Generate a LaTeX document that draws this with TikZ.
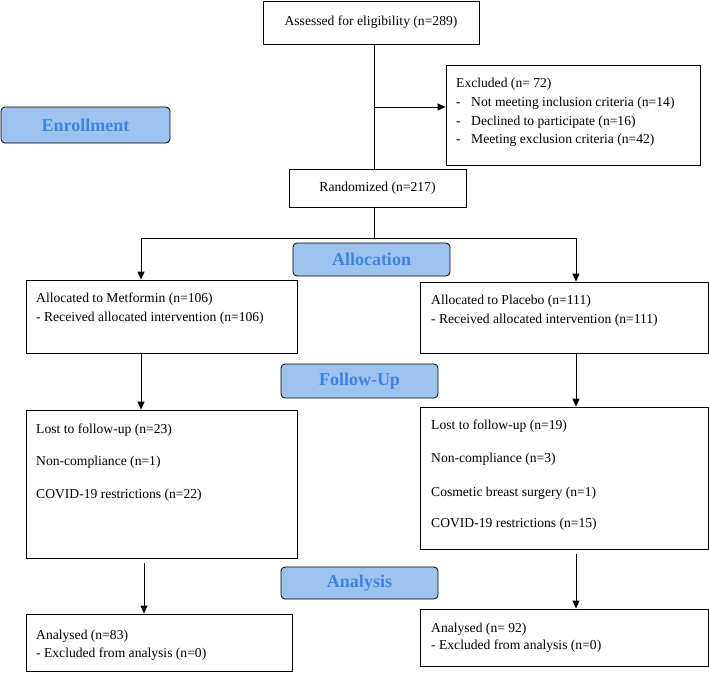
\documentclass[tikz,border=0pt]{standalone}
\usepackage{fontspec}
\setmainfont{Liberation Serif}
\usetikzlibrary{positioning,calc,arrows.meta}

\definecolor{stagefill}{HTML}{9DC3EE}
\definecolor{stagetext}{HTML}{3F85E0}

\tikzset{
  box/.style={draw,line width=0.9pt,inner sep=0pt,font=\fontsize{13.6}{15}\selectfont},
  stage/.style={draw,line width=0.8pt,rounded corners=4pt,fill=stagefill,text=stagetext,
    font=\bfseries\fontsize{18}{20}\selectfont},
  txt/.style={anchor=west,inner sep=0pt,text height=9.5pt,text depth=3pt,
    font=\fontsize{13.6}{15}\selectfont},
  arr/.style={-{Triangle[length=8pt,width=7pt]},line width=0.9pt},
  link/.style={line width=0.9pt}
}

\begin{document}
\begin{tikzpicture}[x=1pt,y=-1pt]
\useasboundingbox (0,0) rectangle (709,672);

% Enrollment
\node[box,minimum width=216,minimum height=43] (assess) at (371,22.5) {Assessed for eligibility (n=289)};
\node[box,minimum width=254,minimum height=100] (excl) at (573,115) {};
\node[box,minimum width=177,minimum height=38] (rand) at (377.5,188) {Randomized (n=217)};
\node[stage,minimum width=169,minimum height=36] (enroll) at (85.5,125) {Enrollment};

\node[txt] at (456,84) {Excluded (n= 72)};
\node[txt] at (456,103) {-};
\node[txt] at (471,103) {Not meeting inclusion criteria (n=14)};
\node[txt] at (456,122) {-};
\node[txt] at (471,122) {Declined to participate (n=16)};
\node[txt] at (456,140) {-};
\node[txt] at (471,140) {Meeting exclusion criteria (n=42)};

\coordinate (split) at (374,107);
\draw[link] (assess.south -| split) -- (rand.north -| split);
\draw[arr] (split) -- (split -| excl.west);

% Allocation
\node[stage,minimum width=157,minimum height=33] (alloc) at (371.5,259.5) {Allocation};
\node[box,minimum width=271,minimum height=73] (allocL) at (161.5,316.5) {};
\node[box,minimum width=288,minimum height=71] (allocR) at (564,317.5) {};

\node[txt] at (36,299) {Allocated to Metformin (n=106)};
\node[txt] at (36,318) {- Received allocated intervention (n=106)};
\node[txt] at (431,301) {Allocated to Placebo (n=111)};
\node[txt] at (431,320) {- Received allocated intervention (n=111)};

\coordinate (brL) at (141,238);
\coordinate (brR) at (576,238);
\draw[link] (rand.south -| split) -- (split |- brL);
\draw[link] (brL) -- (brR);
\draw[arr] (brL) -- (brL |- allocL.north);
\draw[arr] (brR) -- (brR |- allocR.north);

% Follow-up
\node[stage,minimum width=157,minimum height=34] (follow) at (359.5,381) {Follow-Up};
\node[box,minimum width=271,minimum height=148] (lostL) at (161.5,484) {};
\node[box,minimum width=288,minimum height=142] (lostR) at (564,478) {};

\node[txt] at (36,430) {Lost to follow-up (n=23)};
\node[txt] at (36,462) {Non-compliance (n=1)};
\node[txt] at (36,495) {COVID-19 restrictions (n=22)};
\node[txt] at (431,426) {Lost to follow-up (n=19)};
\node[txt] at (431,459) {Non-compliance (n=3)};
\node[txt] at (431,493) {Cosmetic breast surgery (n=1)};
\node[txt] at (431,524) {COVID-19 restrictions (n=15)};

\draw[arr] (brL |- allocL.south) -- (brL |- lostL.north);
\draw[arr] (brR |- allocR.south) -- (brR |- lostR.north);

% Analysis
\node[stage,minimum width=157,minimum height=32] (analysis) at (359.5,583) {Analysis};
\node[box,minimum width=266,minimum height=57] (anL) at (159,642.5) {};
\node[box,minimum width=288,minimum height=57] (anR) at (564,637.5) {};

\node[txt] at (36,636) {Analysed (n=83)};
\node[txt] at (36,654) {- Excluded from analysis (n=0)};
\node[txt] at (431,629) {Analysed (n= 92)};
\node[txt] at (431,646) {- Excluded from analysis (n=0)};

\coordinate (colL) at (144,563);
\draw[arr] (colL) -- (colL |- anL.north);
\draw[arr] ($(brR |- lostR.south)+(0,5)$) -- (brR |- anR.north);
\end{tikzpicture}
\end{document}
